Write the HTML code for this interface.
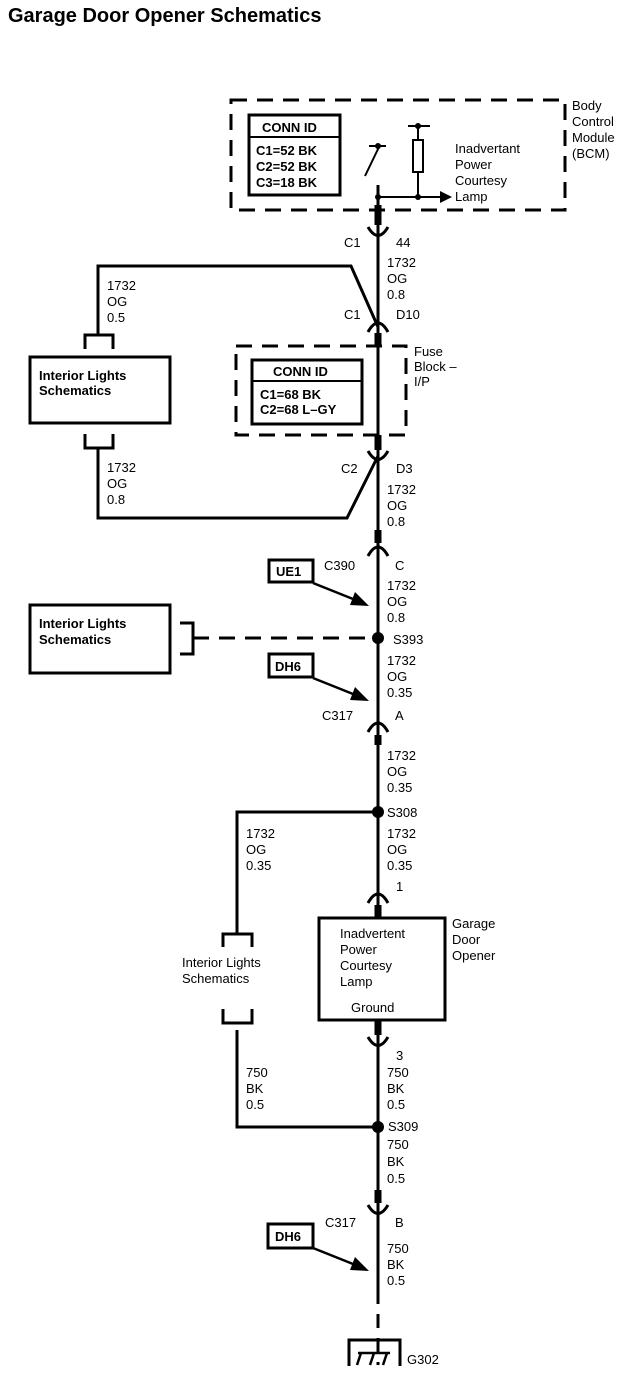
<!DOCTYPE html>
<html><head><meta charset="utf-8"><style>
html,body{margin:0;padding:0;background:#fff;width:632px;height:1392px;overflow:hidden}
svg text{font-family:"Liberation Sans",sans-serif;font-size:13px;fill:#000}
</style></head><body>
<svg width="632" height="1392" viewBox="0 0 632 1392" xmlns="http://www.w3.org/2000/svg">
<text x="8" y="22" style="font-size:20px;font-weight:bold">Garage Door Opener Schematics</text>
<g fill="none" stroke="#000">
<rect x="231" y="100" width="334" height="110" stroke-width="3" stroke-dasharray="16,10"/>
<rect x="249" y="115" width="91" height="80" stroke-width="3"/>
<line x1="249" y1="137" x2="340" y2="137" stroke-width="2"/>
<line x1="369" y1="146" x2="386" y2="146" stroke-width="2"/>
<line x1="379" y1="147" x2="365" y2="176" stroke-width="2"/>
<line x1="408" y1="126" x2="430" y2="126" stroke-width="2"/>
<line x1="418" y1="126" x2="418" y2="140" stroke-width="2"/>
<rect x="413" y="140" width="10" height="32" stroke-width="2"/>
<line x1="418" y1="172" x2="418" y2="197" stroke-width="2"/>
<line x1="378" y1="197" x2="440" y2="197" stroke-width="2"/>
<line x1="378" y1="185" x2="378" y2="918" stroke-width="3"/>
<line x1="378" y1="1020" x2="378" y2="1290" stroke-width="3"/>
<line x1="378" y1="205" x2="378" y2="225" stroke-width="7"/>
<line x1="378" y1="333" x2="378" y2="345" stroke-width="7"/>
<line x1="378" y1="435" x2="378" y2="450" stroke-width="7"/>
<line x1="378" y1="530" x2="378" y2="543" stroke-width="7"/>
<line x1="378" y1="735" x2="378" y2="745" stroke-width="7"/>
<line x1="378" y1="905" x2="378" y2="918" stroke-width="7"/>
<line x1="378" y1="1020" x2="378" y2="1035" stroke-width="7"/>
<line x1="378" y1="1190" x2="378" y2="1203" stroke-width="7"/>
<path d="M368 227 Q378 244 388 227" stroke-width="3"/>
<path d="M368 332 Q378 314 388 332" stroke-width="3"/>
<path d="M368 451 Q378 468 388 451" stroke-width="3"/>
<path d="M368 556 Q378 538 388 556" stroke-width="3"/>
<path d="M368 732 Q378 714 388 732" stroke-width="3"/>
<path d="M368 903 Q378 885 388 903" stroke-width="3"/>
<path d="M368 1037 Q378 1054 388 1037" stroke-width="3"/>
<path d="M368 1205 Q378 1222 388 1205" stroke-width="3"/>
<polyline points="378,327 351,266 98,266 98,335" stroke-width="3"/>
<polyline points="85,349 85,335 113,335 113,349" stroke-width="3"/>
<rect x="30" y="357" width="140" height="66" stroke-width="3"/>
<polyline points="85,434 85,448 113,448 113,434" stroke-width="3"/>
<polyline points="98,448 98,518 347,518 378,456" stroke-width="3"/>
<rect x="236" y="346" width="170" height="89" stroke-width="3" stroke-dasharray="16,10"/>
<rect x="252" y="360" width="110" height="64" stroke-width="3"/>
<line x1="252" y1="381" x2="362" y2="381" stroke-width="2"/>
<rect x="269" y="560" width="44" height="22" stroke-width="3"/>
<line x1="313" y1="583" x2="358" y2="601" stroke-width="2.5"/>
<rect x="30" y="605" width="140" height="68" stroke-width="3"/>
<polyline points="180,623 193,623 193,654 180,654" stroke-width="3"/>
<line x1="193" y1="638" x2="372" y2="638" stroke-width="3" stroke-dasharray="16,10"/>
<rect x="269" y="654" width="44" height="23" stroke-width="3"/>
<line x1="313" y1="678" x2="358" y2="696" stroke-width="2.5"/>
<polyline points="378,812 237,812 237,933" stroke-width="3"/>
<polyline points="223,947 223,934 252,934 252,947" stroke-width="3"/>
<polyline points="223,1009 223,1023 252,1023 252,1009" stroke-width="3"/>
<polyline points="237,1030 237,1127 378,1127" stroke-width="3"/>
<rect x="319" y="918" width="126" height="102" stroke-width="3"/>
<rect x="268" y="1224" width="45" height="24" stroke-width="3"/>
<line x1="313" y1="1248" x2="358" y2="1266" stroke-width="2.5"/>
<line x1="378" y1="1290" x2="378" y2="1365" stroke-width="3" stroke-dasharray="14,10"/>
<polyline points="349,1366 349,1340 400,1340 400,1366" stroke-width="3"/>
<line x1="361" y1="1353" x2="357" y2="1365" stroke-width="2.5"/>
<line x1="374" y1="1353" x2="370" y2="1365" stroke-width="2.5"/>
<line x1="387" y1="1353" x2="383" y2="1365" stroke-width="2.5"/>
<line x1="358" y1="1353" x2="390" y2="1353" stroke-width="2.5"/>
</g>
<g fill="#000">
<circle cx="378" cy="146" r="3"/>
<circle cx="418" cy="126" r="3"/>
<circle cx="378" cy="197" r="3"/>
<circle cx="418" cy="197" r="3"/>
<polygon points="440,191 452,197 440,203"/>
<polygon points="355,592 369,606 350,605"/>
<polygon points="355,687 369,701 350,700"/>
<polygon points="355,1257 369,1271 350,1270"/>
<circle cx="378" cy="638" r="6"/>
<circle cx="378" cy="812" r="6"/>
<circle cx="378" cy="1127" r="6"/>
</g>
<text x="262" y="132" style="font-weight:bold">CONN ID</text>
<text x="256" y="155" style="font-weight:bold">C1=52 BK</text>
<text x="256" y="171" style="font-weight:bold">C2=52 BK</text>
<text x="256" y="187" style="font-weight:bold">C3=18 BK</text>
<text x="455" y="153">Inadvertant</text>
<text x="455" y="169">Power</text>
<text x="455" y="185">Courtesy</text>
<text x="455" y="201">Lamp</text>
<text x="572" y="110">Body</text>
<text x="572" y="126">Control</text>
<text x="572" y="142">Module</text>
<text x="572" y="158">(BCM)</text>
<text x="344" y="247">C1</text><text x="396" y="247">44</text>
<text x="387" y="267">1732</text><text x="387" y="283">OG</text><text x="387" y="299">0.8</text>
<text x="344" y="319">C1</text><text x="396" y="319">D10</text>
<text x="107" y="290">1732</text><text x="107" y="306">OG</text><text x="107" y="322">0.5</text>
<text x="39" y="380" style="font-weight:bold">Interior Lights</text>
<text x="39" y="395" style="font-weight:bold">Schematics</text>
<text x="273" y="376" style="font-weight:bold">CONN ID</text>
<text x="260" y="399" style="font-weight:bold">C1=68 BK</text>
<text x="260" y="414" style="font-weight:bold">C2=68 L–GY</text>
<text x="414" y="356">Fuse</text><text x="414" y="371">Block –</text><text x="414" y="386">I/P</text>
<text x="107" y="472">1732</text><text x="107" y="488">OG</text><text x="107" y="504">0.8</text>
<text x="341" y="473">C2</text><text x="396" y="473">D3</text>
<text x="387" y="494">1732</text><text x="387" y="510">OG</text><text x="387" y="526">0.8</text>
<text x="276" y="576" style="font-weight:bold">UE1</text>
<text x="324" y="570">C390</text><text x="395" y="570">C</text>
<text x="387" y="590">1732</text><text x="387" y="606">OG</text><text x="387" y="622">0.8</text>
<text x="39" y="628" style="font-weight:bold">Interior Lights</text>
<text x="39" y="644" style="font-weight:bold">Schematics</text>
<text x="393" y="644">S393</text>
<text x="275" y="671" style="font-weight:bold">DH6</text>
<text x="387" y="665">1732</text><text x="387" y="681">OG</text><text x="387" y="697">0.35</text>
<text x="322" y="720">C317</text><text x="395" y="720">A</text>
<text x="387" y="760">1732</text><text x="387" y="776">OG</text><text x="387" y="792">0.35</text>
<text x="387" y="817">S308</text>
<text x="246" y="838">1732</text><text x="246" y="854">OG</text><text x="246" y="870">0.35</text>
<text x="387" y="838">1732</text><text x="387" y="854">OG</text><text x="387" y="870">0.35</text>
<text x="396" y="891">1</text>
<text x="340" y="938">Inadvertent</text><text x="340" y="954">Power</text><text x="340" y="970">Courtesy</text><text x="340" y="986">Lamp</text>
<text x="351" y="1012">Ground</text>
<text x="452" y="928">Garage</text><text x="452" y="944">Door</text><text x="452" y="960">Opener</text>
<text x="182" y="967">Interior Lights</text><text x="182" y="983">Schematics</text>
<text x="396" y="1060">3</text>
<text x="387" y="1077">750</text><text x="387" y="1093">BK</text><text x="387" y="1109">0.5</text>
<text x="246" y="1077">750</text><text x="246" y="1093">BK</text><text x="246" y="1109">0.5</text>
<text x="388" y="1131">S309</text>
<text x="387" y="1149">750</text><text x="387" y="1166">BK</text><text x="387" y="1183">0.5</text>
<text x="325" y="1227">C317</text><text x="395" y="1227">B</text>
<text x="275" y="1241" style="font-weight:bold">DH6</text>
<text x="387" y="1253">750</text><text x="387" y="1269">BK</text><text x="387" y="1285">0.5</text>
<text x="407" y="1364">G302</text>
</svg>
</body></html>
